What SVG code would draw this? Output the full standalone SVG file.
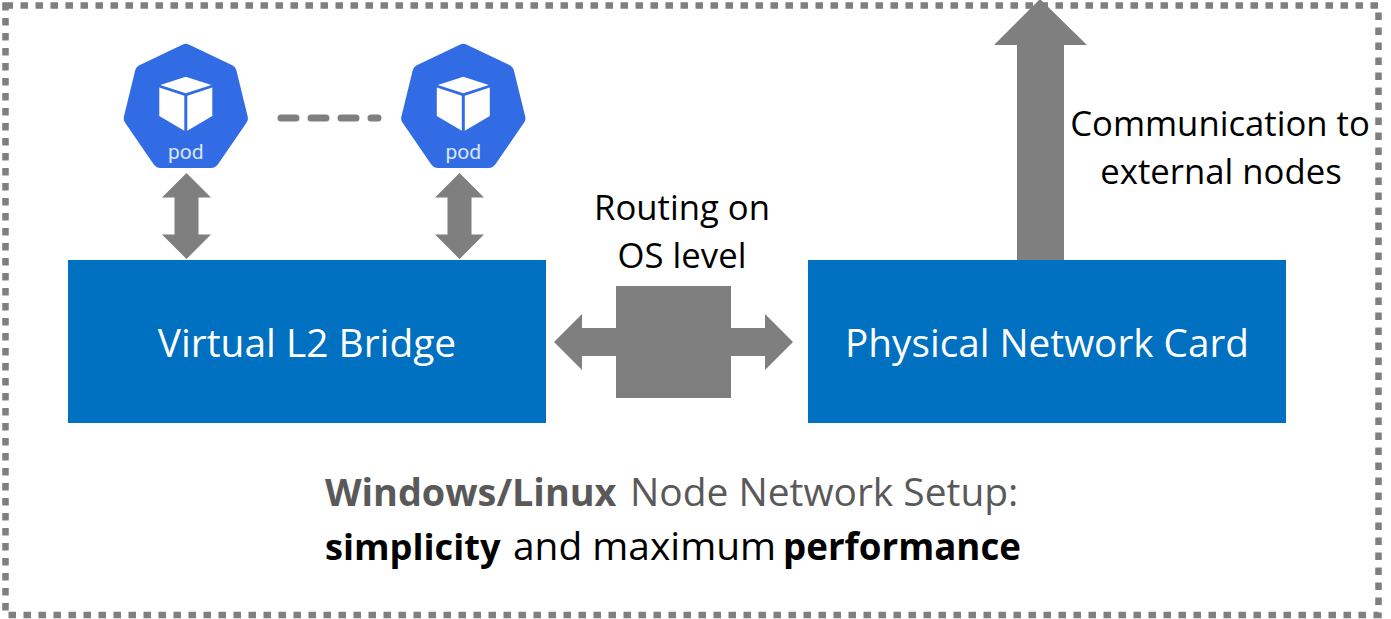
<svg xmlns="http://www.w3.org/2000/svg" width="1391" height="619" viewBox="0 0 1391 619">
<style>
.ar{fill:#7f7f7f}
.box{fill:#0070c0}
.t{font-family:"Open Sans","Noto Sans",sans-serif}
.big{font-size:38.900px}
.mid{font-size:34.700px}
.w{fill:#fff;text-anchor:middle}
.k{fill:#000;text-anchor:middle}
.b{font-weight:700}
.hex{fill:#326ce5}
.cube{fill:#fff}
.pl{font-family:Roboto,"Open Sans",sans-serif;font-size:21px;fill:#d9e4fa;text-anchor:middle}
</style>
<defs>
<g id="podicon">
<path class="hex" d="M-3-40.500Q0-42 3-40.500L47-19.500Q49.800-18 50.500-15L62 32Q62.800 35 60.500 38L32 79.500Q29 83 25.500 83L-25.500 83Q-29 83-32 79.500L-60.500 38Q-62.800 35-62 32L-50.500-15Q-49.800-18-47-19.500Z"/>
<path class="cube" d="M0-8.300L-25.500 0 0 8.300 25.500 0Z M-26.500 2.500L-1.500 10.800V45.700L-26.500 31Z M26.500 2.500L1.500 10.800V45.700L26.500 31Z"/>
<text class="pl" x="0" y="74">pod</text>
</g>
</defs>
<rect id="frame" x="5.500" y="5.500" width="1373" height="609.500" fill="none" stroke="#7f7f7f" stroke-width="6.500" stroke-dasharray="7.500 7.500"/>
<g id="connectors">
<path class="ar" d="M186.500 173L211 197.500H198.500V234.500H211L186.500 259 162 234.500H174.500V197.500H162Z"/>
<path class="ar" d="M459.500 173L484 197.500H471.500V234.500H484L459.500 259 435 234.500H447.500V197.500H435Z"/>
<path class="ar" d="M554 342L582 314V328H616V286H731V328H765V314L793 342 765 370V356H731V398H616V356H582V370Z"/>
<path class="ar" d="M1040 -1L1087 45H1064V260H1017V45H994Z"/>
<line x1="281" y1="118" x2="378" y2="118" stroke="#7f7f7f" stroke-width="7" stroke-linecap="round" stroke-dasharray="15 15"/>
</g>
<g id="pod1"><use href="#podicon" x="185.800" y="85"/></g>
<g id="pod2"><use href="#podicon" x="463.300" y="85"/></g>
<g id="bridge"><rect class="box" x="68" y="260" width="478" height="163"/><text class="t big w" x="307" y="357">Virtual L2 Bridge</text></g>
<g id="nic"><rect class="box" x="808" y="260" width="478" height="163"/><text class="t big w" x="1047" y="357" style="font-size:38.700px">Physical Network Card</text></g>
<g id="routing-label"><text class="t mid k" x="682" y="220">Routing on</text><text class="t mid k" x="682" y="268">OS level</text></g>
<g id="external-label"><text class="t mid k" x="1220" y="136">Communication to</text><text class="t mid k" x="1221" y="184">external nodes</text></g>
<g id="caption">
<text class="t big" y="505.500" fill="#595959"><tspan class="b" x="325" style="font-size:37.800px">Windows/Linux </tspan><tspan x="630">Node Network Setup:</tspan></text>
<text class="t big" y="559.500" fill="#000"><tspan class="b" x="325" style="font-size:36.200px">simplicity </tspan><tspan x="513">and maximum </tspan><tspan class="b" x="783" style="font-size:36.700px">performance</tspan></text>
</g>
</svg>
